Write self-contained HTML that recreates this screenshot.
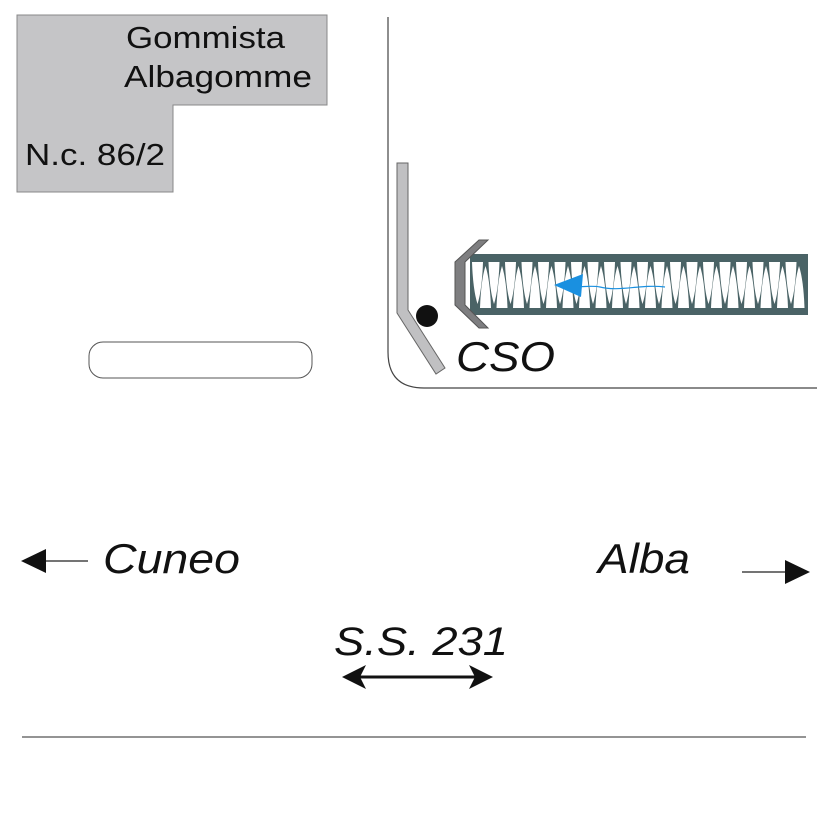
<!DOCTYPE html>
<html><head><meta charset="utf-8"><style>
html,body{margin:0;padding:0;background:#fff;}
svg{display:block;}
text{font-family:"Liberation Sans",sans-serif;fill:#111;}
</style></head><body>
<svg width="827" height="827" viewBox="0 0 827 827" xmlns="http://www.w3.org/2000/svg">
<polygon points="17,15 327,15 327,105 173,105 173,192 17,192" fill="#c5c5c7" stroke="#888" stroke-width="1"/>
<text x="126" y="48" font-size="31" textLength="159" lengthAdjust="spacingAndGlyphs">Gommista</text>
<text x="124" y="87" font-size="31" textLength="188" lengthAdjust="spacingAndGlyphs">Albagomme</text>
<text x="25" y="165" font-size="31" textLength="140" lengthAdjust="spacingAndGlyphs">N.c. 86/2</text>
<rect x="89" y="342" width="223" height="36" rx="14" fill="#fff" stroke="#555" stroke-width="1"/>
<path d="M388,17 V352 Q388,388 424,388 H817" fill="none" stroke="#444" stroke-width="1.2"/>
<polygon points="397,163 408,163 408,310 445,368 436,374 397,313" fill="#c0c0c2" stroke="#666" stroke-width="1"/>
<circle cx="427" cy="316" r="11" fill="#111"/>
<rect x="470" y="254" width="338" height="61" fill="#4a6366"/>
<g id="teeth" fill="#fff"></g>
<polygon points="479,240 488,240 465,262 465,305 488,328 479,328 455,305 455,262" fill="#7e7e80" stroke="#555" stroke-width="1"/>
<path d="M665,287 C640,284 620,292 600,287 C590,285 580,288 570,286" fill="none" stroke="#1a90e0" stroke-width="1.2"/>
<polygon points="554,285 583,274 581,297" fill="#1a90e0"/>
<text x="456" y="371" font-size="42" font-style="italic" textLength="99" lengthAdjust="spacingAndGlyphs">CSO</text>
<line x1="28" y1="561" x2="88" y2="561" stroke="#222" stroke-width="1.2"/>
<polygon points="21,561 46,549 46,573" fill="#111"/>
<text x="103" y="573" font-size="42" font-style="italic" textLength="137" lengthAdjust="spacingAndGlyphs">Cuneo</text>
<text x="598" y="573" font-size="42" font-style="italic" textLength="92" lengthAdjust="spacingAndGlyphs">Alba</text>
<line x1="742" y1="572" x2="790" y2="572" stroke="#222" stroke-width="1.2"/>
<polygon points="810,572 785,560 785,584" fill="#111"/>
<text x="334" y="655" font-size="40" font-style="italic" textLength="174" lengthAdjust="spacingAndGlyphs">S.S. 231</text>
<line x1="355" y1="677" x2="480" y2="677" stroke="#111" stroke-width="3"/>
<polygon points="342,677 366,665 360,677 366,689" fill="#111"/>
<polygon points="493,677 469,665 475,677 469,689" fill="#111"/>
<line x1="22" y1="737" x2="806" y2="737" stroke="#555" stroke-width="1.2"/>
</svg>
<script>
(function(){
 var g=document.getElementById('teeth'),s='';
 for(var x=472;x<795;x+=16.5){
  s+='<path d="M'+x+',262 L'+(x+11)+',262 Q'+(x+10)+',290 '+(x+5.5)+',304 Q'+(x+1)+',290 '+x+',262Z"/>';
  s+='<path d="M'+(x+8)+',308 L'+(x+19)+',308 Q'+(x+18)+',280 '+(x+13.5)+',266 Q'+(x+9)+',280 '+(x+8)+',308Z"/>';
 }
 g.innerHTML=s;
})();
</script>
</body></html>
